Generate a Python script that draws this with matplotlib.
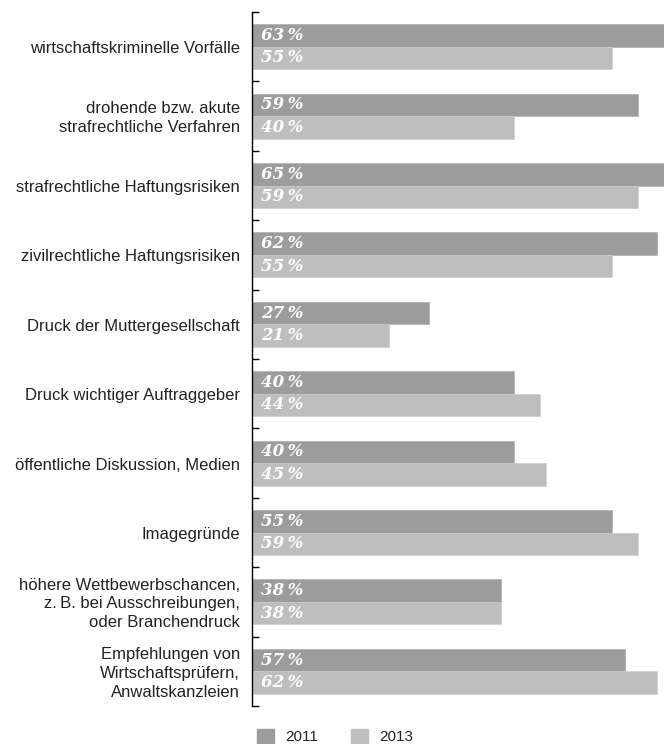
import matplotlib
matplotlib.use('Agg')
from matplotlib import pyplot as plt
from matplotlib.patches import Rectangle
import numpy as np

categories = [
    'wirtschaftskriminelle Vorfälle',
    'drohende bzw. akute\nstrafrechtliche Verfahren',
    'strafrechtliche Haftungsrisiken',
    'zivilrechtliche Haftungsrisiken',
    'Druck der Muttergesellschaft',
    'Druck wichtiger Auftraggeber',
    'öffentliche Diskussion, Medien',
    'Imagegründe',
    'höhere Wettbewerbschancen,\nz.\u2009B. bei Ausschreibungen,\noder Branchendruck',
    'Empfehlungen von\nWirtschaftsprüfern,\nAnwaltskanzleien',
]
values_2011 = [63, 59, 65, 62, 27, 40, 40, 55, 38, 57]
values_2013 = [55, 40, 59, 55, 21, 44, 45, 59, 38, 62]
series_names = ['2011', '2013']

dark = '#9c9c9c'
light = '#bebebe'

W, H = 664, 744
fig = plt.figure(figsize=(W / 100, H / 100), dpi=100)
ax = fig.add_axes([252 / W, 1 - 706 / H, 1 - 252 / W, (706 - 12) / H])

y = np.arange(len(categories))
h = 0.325
ax.barh(y - h / 2, values_2011, height=h, color=dark, edgecolor='#b0b0b0', lw=0.5)
ax.barh(y + h / 2, values_2013, height=h, color=light, edgecolor='#cccccc', lw=0.5)

ax.set_xlim(0, 63)
ax.set_ylim(len(categories) - 0.5, -0.5)

for i in range(len(categories)):
    for v, off in ((values_2011[i], -h / 2), (values_2013[i], h / 2)):
        ax.text(1.45, y[i] + off, '%d\u2009%%' % v, color='white', fontsize=12,
                family='DejaVu Serif', style='italic', weight='bold',
                ha='left', va='center')
    ax.text(-1.85, y[i] + 0.03, categories[i], ha='right', va='center', fontsize=12,
            family='Liberation Sans', color='#222222', linespacing=1.32)

for s in ['top', 'right', 'bottom']:
    ax.spines[s].set_visible(False)
ax.spines['left'].set_linewidth(1.0)
ax.set_xticks([])
ax.set_yticks(np.arange(-0.5, len(categories), 1.0))
ax.set_yticklabels([])
ax.tick_params(axis='y', direction='in', length=5, width=1)

# legend
for (x0, name, col) in ((257, series_names[0], dark), (351, series_names[1], light)):
    fig.patches.append(Rectangle((x0 / W, 0), 17 / W, 15 / H,
                                 transform=fig.transFigure, color=col))
    fig.text((x0 + 28) / W, 1 - 737 / H, name, fontsize=11,
             family='Liberation Sans', color='#222222', va='center', ha='left')

plt.savefig('out.png', dpi=100)
